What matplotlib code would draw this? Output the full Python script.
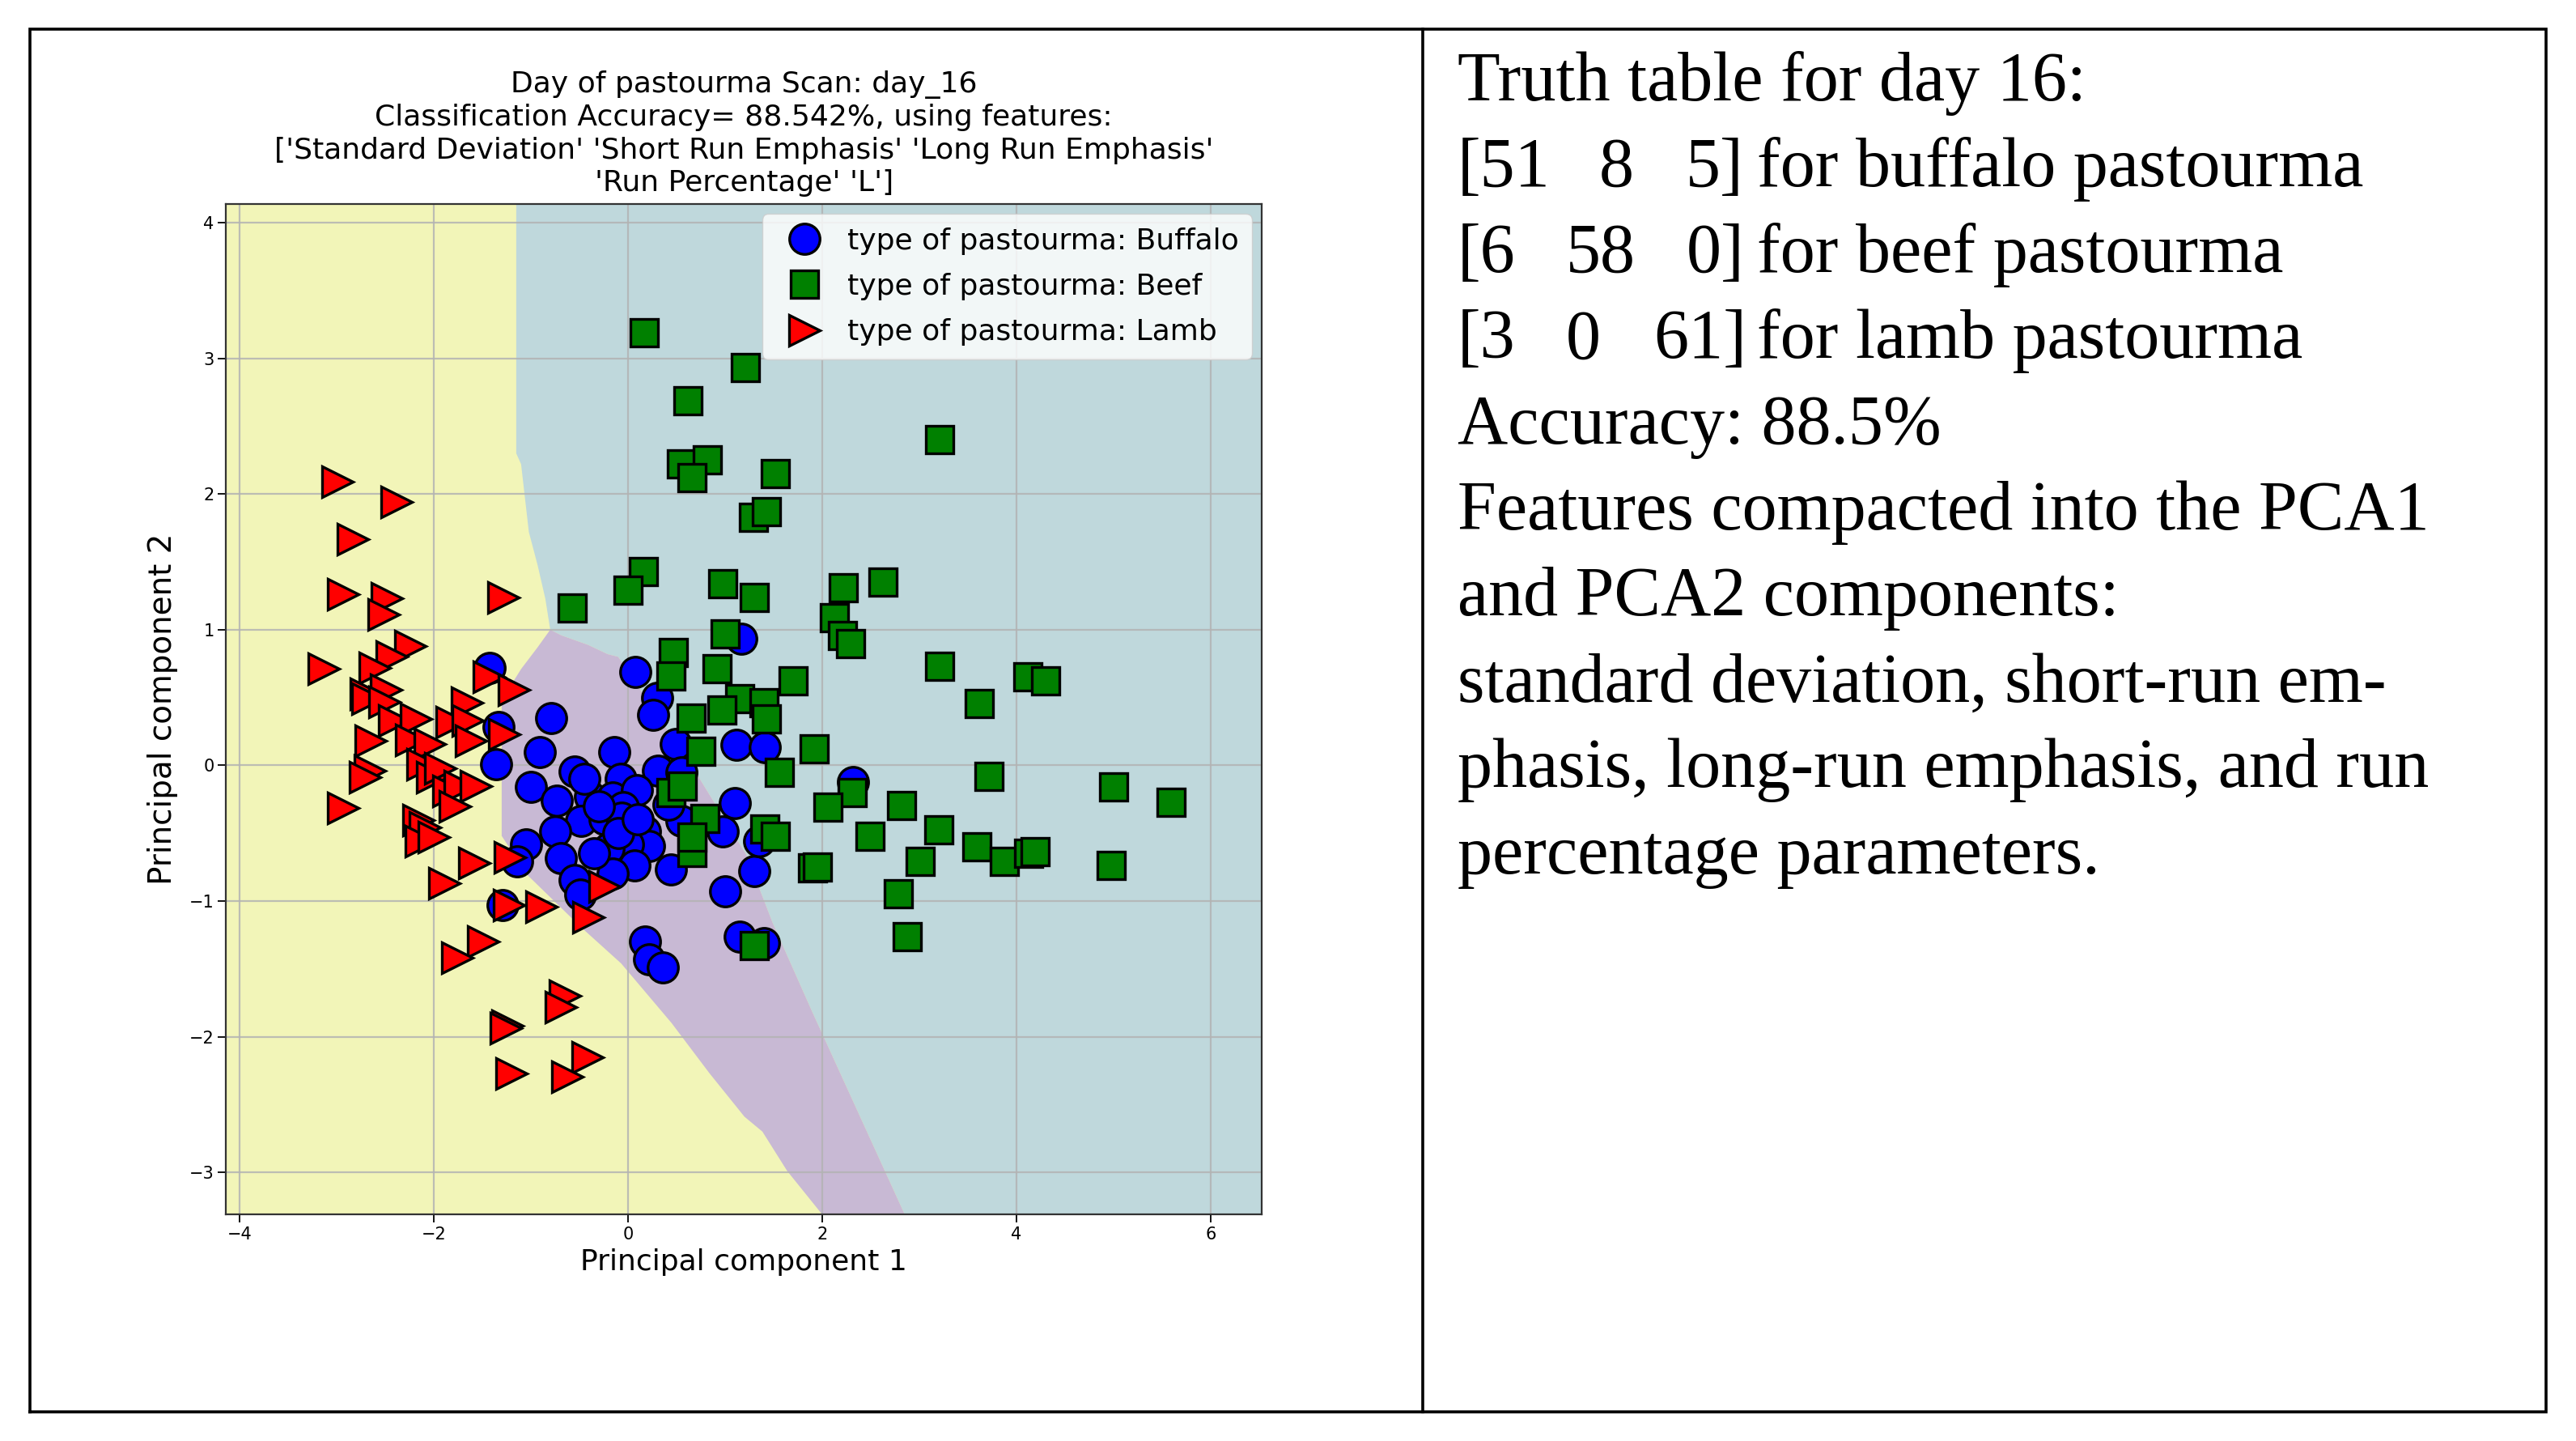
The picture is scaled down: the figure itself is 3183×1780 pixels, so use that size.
import matplotlib
matplotlib.use("Agg")
import matplotlib.pyplot as plt
from matplotlib.lines import Line2D

# ---------------- data ----------------
buffalo_x = [0.08, 0.30, 0.26, -0.79, -0.91, -0.14, 0.49, 1.12, 1.41, -0.55, -1.00, 0.31, -0.07, -0.73,
             -0.39, -0.155, 0.095, -0.05, -0.48, -0.24, -0.065, -0.745, -1.05, 0.18, 0.22, 0.00, -0.20,
             -0.69, 0.07, -0.16, -0.55, 0.44, 0.55, 1.10, 0.98, 1.30, 1.00, 1.17, 2.32, 1.35, 1.15, 1.40,
             0.18, 0.22, 0.36, -1.29, -1.14, -0.49, -1.36, -1.33, -1.42, 0.42, -0.45, -0.30, -0.10, 0.10,
             -0.35, 0.55]
buffalo_y = [0.69, 0.50, 0.37, 0.35, 0.10, 0.10, 0.16, 0.15, 0.135, -0.045, -0.16, -0.04, -0.10, -0.26,
             -0.23, -0.235, -0.18, -0.31, -0.41, -0.40, -0.385, -0.49, -0.585, -0.485, -0.595, -0.58, -0.61,
             -0.685, -0.74, -0.80, -0.845, -0.77, -0.41, -0.28, -0.49, -0.78, -0.93, 0.935, -0.125, -0.56,
             -1.26, -1.31, -1.30, -1.43, -1.49, -1.03, -0.71, -0.955, 0.01, 0.28, 0.72, -0.29, -0.10, -0.30,
             -0.50, -0.40, -0.65, -0.05]

beef_x = [0.17, 1.21, 0.62, 3.21, 0.55, 0.82, 0.66, 1.52, 1.29, 1.43, 0.16, 0.00, 0.98, 1.30, 2.22, 2.63,
          2.13, 2.21, 1.00, 2.29, -0.57, 0.47, 0.44, 0.92, 1.70, 3.21, 4.12, 4.30, 3.62, 1.15, 0.97, 1.40,
          1.43, 0.655, 0.75, 1.92, 1.56, 0.44, 0.56, 0.79, 2.31, 2.06, 2.82, 1.41, 1.52, 2.49, 3.20, 0.66,
          0.66, 1.90, 1.95, 3.01, 3.59, 3.88, 4.13, 4.19, 2.785, 2.875, 1.30, 3.72, 5.00, 5.595, 4.98]
beef_y = [3.19, 2.93, 2.69, 2.40, 2.22, 2.25, 2.12, 2.15, 1.83, 1.87, 1.43, 1.29, 1.34, 1.235, 1.31, 1.35,
          1.09, 0.96, 0.97, 0.90, 1.16, 0.83, 0.66, 0.715, 0.625, 0.73, 0.65, 0.62, 0.455, 0.49, 0.41, 0.46,
          0.345, 0.35, 0.105, 0.12, -0.05, -0.20, -0.155, -0.39, -0.20, -0.31, -0.295, -0.47, -0.525, -0.52,
          -0.475, -0.64, -0.53, -0.755, -0.75, -0.71, -0.60, -0.71, -0.65, -0.635, -0.945, -1.26, -1.33,
          -0.08, -0.16, -0.275, -0.735]

lamb_x = [-2.99, -2.38, -2.83, -2.93, -2.48, -2.52, -1.285, -3.13, -2.24, -2.43, -2.61, -2.70, -2.49, -1.43,
          -1.17, -1.66, -2.685, -2.51, -2.41, -2.18, -1.82, -1.65, -1.27, -2.65, -2.235, -2.04, -1.62, -2.66,
          -2.71, -2.115, -2.02, -1.935, -1.85, -1.735, -1.57, -1.78, -2.935, -2.16, -2.09, -2.13, -2.00,
          -1.58, -1.215, -1.89, -1.22, -0.89, -0.41, -0.24, -1.49, -1.755, -0.645, -0.69, -1.24, -1.26,
          -0.415, -1.20, -0.62]
lamb_y = [2.09, 1.94, 1.67, 1.26, 1.23, 1.11, 1.24, 0.71, 0.88, 0.80, 0.72, 0.53, 0.56, 0.65, 0.56, 0.46,
          0.49, 0.47, 0.33, 0.34, 0.32, 0.33, 0.23, 0.18, 0.19, 0.16, 0.18, -0.04, -0.09, 0.01, -0.09, -0.02,
          -0.19, -0.15, -0.15, -0.30, -0.315, -0.405, -0.46, -0.56, -0.53, -0.72, -0.68, -0.87, -1.03, -1.04,
          -1.12, -0.895, -1.30, -1.42, -1.70, -1.785, -1.92, -1.94, -2.15, -2.27, -2.295]

# axis extent of the decision surface
x_range = [-4.14, 6.53]
y_range = [-3.31, 4.14]

# decision regions (boundary vertices); lamb = remaining area
beef_region_x = [-1.15, 6.53, 6.53, 2.85, 1.90, 1.49, 1.22, 0.68, -0.10, -0.21, -0.41, -0.685, -0.80,
                 -0.85, -0.93, -1.02, -1.06, -1.10, -1.15]
beef_region_y = [4.14, 4.14, -3.31, -3.31, -1.82, -1.16, -0.66, -0.03, 0.80, 0.82, 0.888, 0.958, 1.00,
                 1.227, 1.476, 1.72, 1.97, 2.22, 2.30]
buffalo_region_x = [-0.80, -0.685, -0.41, -0.21, -0.10, 0.68, 1.22, 1.49, 1.90, 2.85, 2.00, 1.64, 1.385,
                    1.20, 0.84, 0.45, -0.07, -0.48, -1.04, -1.30, -1.30, -1.24, -1.10, -0.93]
buffalo_region_y = [1.00, 0.958, 0.888, 0.82, 0.80, -0.03, -0.66, -1.16, -1.82, -3.31, -3.31, -2.99, -2.70,
                    -2.59, -2.27, -1.90, -1.46, -1.195, -0.805, -0.52, 0.45, 0.55, 0.71, 0.87]

x_ticks = [-4, -2, 0, 2, 4, 6]
y_ticks = [-3, -2, -1, 0, 1, 2, 3, 4]

class_labels = ["type of pastourma: Buffalo", "type of pastourma: Beef", "type of pastourma: Lamb"]

title_text = ("Day of pastourma Scan: day_16\n"
              "Classification Accuracy= 88.542%, using features:\n"
              "['Standard Deviation' 'Short Run Emphasis' 'Long Run Emphasis'\n"
              "'Run Percentage' 'L']")

# ---------------- figure ----------------
W, H = 3183, 1780
fig = plt.figure(figsize=(W / 100, H / 100), dpi=100)
fig.patch.set_facecolor("white")

# table frame
frame = fig.add_axes([0, 0, 1, 1], zorder=-5)
frame.set_xlim(0, 1)
frame.set_ylim(0, 1)
frame.axis("off")
fx0, fx1, fy0, fy1, fdiv = 0.0115, 0.9885, 0.0205, 0.9795, 0.5524
frame.plot([fx0, fx1, fx1, fx0, fx0], [fy0, fy0, fy1, fy1, fy0], color="black", lw=2.6,
           solid_joinstyle="miter")
frame.plot([fdiv, fdiv], [fy0, fy1], color="black", lw=2.6)

# chart
ax = fig.add_axes([0.0877, 0.1573, 0.4022, 0.7013])
yellow, purple, teal = "#f2f5b8", "#c8b9d4", "#bfd8dc"
ax.set_facecolor(yellow)
ax.fill(beef_region_x, beef_region_y, color=teal, lw=0, zorder=0.8)
ax.fill(buffalo_region_x, buffalo_region_y, color=purple, lw=0, zorder=0.8)

ms, mew = 27, 2.4
ax.plot(buffalo_x, buffalo_y, ls="none", marker="o", ms=ms, mfc="#0000ff", mec="black", mew=mew)
ax.plot(beef_x, beef_y, ls="none", marker="s", ms=ms * 0.93, mfc="#008000", mec="black", mew=mew)
ax.plot(lamb_x, lamb_y, ls="none", marker=">", ms=ms, mfc="#ff0000", mec="black", mew=mew)

ax.set_xlim(x_range)
ax.set_ylim(y_range)
ax.set_xticks(x_ticks)
ax.set_yticks(y_ticks)
ax.grid(True, color="#b3b3b3", lw=1.6, alpha=0.85)
ax.tick_params(labelsize=15, length=7, width=1.3)
for s in ax.spines.values():
    s.set_linewidth(1.6)
    s.set_color("#333333")

ax.set_title(title_text, fontsize=26, linespacing=1.24, pad=11)
ax.set_xlabel("Principal component 1", fontsize=26, labelpad=5)
ax.set_ylabel("Principal component 2", fontsize=28, labelpad=10)

handles = [
    Line2D([], [], ls="none", marker="o", ms=ms, mfc="#0000ff", mec="black", mew=mew),
    Line2D([], [], ls="none", marker="s", ms=ms * 0.93, mfc="#008000", mec="black", mew=mew),
    Line2D([], [], ls="none", marker=">", ms=ms, mfc="#ff0000", mec="black", mew=mew),
]
leg = ax.legend(handles, class_labels, loc="upper right", fontsize=26, labelspacing=0.62,
                handletextpad=0.45, borderaxespad=0.35, borderpad=0.45, framealpha=0.8)

# right-hand text
serif = ["Liberation Serif", "DejaVu Serif"]
fs = 62
x0 = 0.5658
base = [61 + 52.2 * i for i in range(10)]
yb = [1 - b / 876 for b in base]
def t(x, y, s):
    fig.text(x, y, s, fontsize=fs, family=serif, ha="left", va="baseline")

t(x0, yb[0], "Truth table for day 16:")
t(x0, yb[1], "[51"); t(0.6207, yb[1], "8"); t(0.6545, yb[1], "5]"); t(0.682, yb[1], "for buffalo pastourma")
t(x0, yb[2], "[6"); t(0.6079, yb[2], "58"); t(0.6545, yb[2], "0]"); t(0.682, yb[2], "for beef pastourma")
t(x0, yb[3], "[3"); t(0.6079, yb[3], "0"); t(0.6418, yb[3], "61]"); t(0.682, yb[3], "for lamb pastourma")
t(x0, yb[4], "Accuracy: 88.5%")
t(x0, yb[5], "Features compacted into the PCA1")
t(x0, yb[6], "and PCA2 components:")
t(x0, yb[7], "standard deviation, short-run em-")
t(x0, yb[8], "phasis, long-run emphasis, and run")
t(x0, yb[9], "percentage parameters.")

fig.savefig("out.png", dpi=100, facecolor="white")
